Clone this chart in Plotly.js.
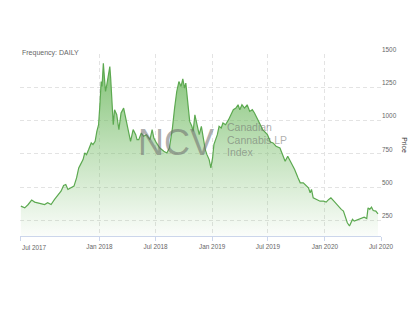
<!DOCTYPE html>
<html>
<head>
<meta charset="utf-8">
<script src="https://cdn.plot.ly/plotly-3.0.1.min.js"></script>
<style>html,body{margin:0;padding:0;background:#fff;}#chart{width:420px;height:315px;}</style>
</head>
<body>
<div id="chart"></div>
<script>
const dates = [
'2017-07-03','2017-07-12','2017-07-20','2017-07-28','2017-08-04','2017-08-15','2017-08-27','2017-09-03','2017-09-11','2017-09-19',
'2017-09-27','2017-10-04','2017-10-10','2017-10-15','2017-10-20','2017-10-27','2017-11-03','2017-11-09','2017-11-14','2017-11-18',
'2017-11-24','2017-11-28','2017-12-02','2017-12-07','2017-12-13','2017-12-17','2017-12-22','2017-12-26','2017-12-30',
'2018-01-02','2018-01-05','2018-01-09','2018-01-12','2018-01-16','2018-01-19','2018-01-24','2018-01-29','2018-02-02','2018-02-06',
'2018-02-09','2018-02-14','2018-02-19','2018-02-26','2018-03-05','2018-03-12','2018-03-20','2018-03-27','2018-04-04','2018-04-11',
'2018-04-19','2018-04-27','2018-05-02','2018-05-08','2018-05-16','2018-05-23','2018-06-01','2018-06-13','2018-06-20','2018-06-26',
'2018-07-04','2018-07-16','2018-07-27','2018-08-07','2018-08-15','2018-08-24','2018-08-31','2018-09-07','2018-09-14','2018-09-21',
'2018-09-27','2018-10-03','2018-10-08','2018-10-15','2018-10-19','2018-10-26','2018-10-31','2018-11-06','2018-11-12','2018-11-20',
'2018-11-27','2018-12-04','2018-12-10','2018-12-14','2018-12-21','2018-12-27',
'2019-01-02','2019-01-07','2019-01-11','2019-01-17','2019-01-23','2019-01-30','2019-02-05','2019-02-13','2019-02-22','2019-03-01',
'2019-03-11','2019-03-19','2019-03-26','2019-04-01','2019-04-08','2019-04-16','2019-04-24','2019-05-02','2019-05-10','2019-05-17',
'2019-05-28','2019-06-13','2019-06-28',
'2019-07-09','2019-07-17','2019-07-26','2019-08-08','2019-08-16','2019-08-26','2019-09-03','2019-09-13','2019-09-25','2019-10-07',
'2019-10-14','2019-10-23','2019-11-01','2019-11-08','2019-11-14','2019-11-19','2019-11-25','2019-12-06','2019-12-17','2019-12-27',
'2020-01-06','2020-01-14','2020-01-21','2020-01-30','2020-02-07','2020-02-14','2020-02-24','2020-03-02','2020-03-09','2020-03-13',
'2020-03-20','2020-03-26','2020-03-31','2020-04-06','2020-04-17','2020-04-28','2020-05-07','2020-05-15','2020-05-20','2020-05-26',
'2020-06-01','2020-06-05','2020-06-15','2020-06-22'
];
const prices = [
357,344,369,402,387,377,369,382,369,407,
444,469,512,519,482,494,507,569,644,669,
707,757,744,782,832,819,844,919,969,
1119,1294,1257,1432,1344,1219,1269,1344,1407,1319,
1094,969,1082,1044,932,1057,1094,1019,919,844,
932,894,857,857,907,882,894,857,932,869,
832,794,769,757,794,944,1094,1219,1294,1257,
1314,1244,1282,1144,994,957,919,1044,982,894,
957,844,782,744,707,644,
719,819,857,894,957,944,982,969,1007,1044,
1082,1094,1119,1082,1119,1094,1119,1069,1082,1057,
1012,932,894,
839,832,807,794,744,694,732,682,632,569,
532,532,507,494,457,482,419,407,394,394,
387,407,419,394,369,357,332,319,269,232,
207,232,257,244,257,269,274,264,344,332,
349,324,319,299
];
const yTicks = [250, 500, 750, 1000, 1250, 1500];
// first trading day of each labelled month (ordinal axis)
const xTickDates = ['2017-07-01','2018-01-01','2018-07-02','2019-01-01','2019-07-01','2020-01-01','2020-07-01'];
const xTickLabels = ['Jul 2017','Jan 2018','Jul 2018','Jan 2019','Jul 2019','Jan 2020','Jul 2020'];
const frequencyText = 'Frequency: DAILY';
const yTitle = 'Price';
const watermarkBig = 'NCV';
const watermarkLines = ['Canadian', 'Cannabis LP', 'Index'];

// Ordinal-like axis: weekends are skipped from 2018 on (the data had no weekend points then)
const weekendBreaks = [];
for (let t = Date.UTC(2018, 0, 6); t <= Date.UTC(2020, 6, 4); t += 7 * 86400000) {
  weekendBreaks.push(new Date(t).toISOString().slice(0, 10));
}

const FONT = 'Liberation Sans, Arial, sans-serif';
const GRID = '#e3e3e3';
const wmColor = 'rgba(105,105,105,0.55)';

const trace = {
  type: 'scatter',
  mode: 'lines',
  x: dates,
  y: prices,
  connectgaps: true,
  fill: 'tozeroy',
  fillgradient: {
    type: 'vertical',
    start: 132,
    stop: 1500,
    colorscale: [[0, 'rgba(110,185,95,0.03)'], [0.5, 'rgba(110,185,95,0.45)'], [1, 'rgba(100,180,85,0.85)']]
  },
  line: {color: '#5ca950', width: 1.2},
  hoverinfo: 'skip'
};

const wmX = (225 - 20) / 361;
const wmY = (py) => (236 - py) / 181.7;

const layout = {
  width: 420, height: 315,
  margin: {l: 20, r: 39, t: 54, b: 79},
  paper_bgcolor: '#fff', plot_bgcolor: '#fff',
  showlegend: false,
  font: {family: FONT, color: '#666'},
  xaxis: {
    type: 'date',
    range: ['2017-07-01', '2020-07-01'],
    rangebreaks: [{values: weekendBreaks, dvalue: 2 * 86400000}],
    tickmode: 'array',
    tickvals: xTickDates,
    ticktext: xTickLabels.map((t, i) => i === 0 ? '' : t),
    ticks: 'outside', ticklen: 4, tickcolor: '#ccd6eb', tickwidth: 1,
    showline: true, linecolor: '#ccd6eb', linewidth: 1,
    showgrid: true, gridcolor: GRID, gridwidth: 1, griddash: '4px,3px',
    zeroline: false,
    tickfont: {size: 6.4, color: '#666', family: FONT}
  },
  yaxis: {
    side: 'right',
    range: [132, 1501],
    tickmode: 'array',
    tickvals: yTicks,
    ticktext: yTicks.map(String),
    ticks: '',
    ticklabelposition: 'outside top',
    showline: false, zeroline: false,
    showgrid: true, gridcolor: GRID, gridwidth: 1, griddash: '4px,3px',
    tickfont: {size: 6.4, color: '#666', family: FONT}
  },
  annotations: [
    {text: frequencyText, xref: 'paper', yref: 'paper', x: 0, y: 1, xanchor: 'left', yanchor: 'bottom', yshift: -5,
     showarrow: false, font: {size: 7, color: '#666', family: FONT}},
    {text: yTitle, xref: 'paper', yref: 'paper', x: 1.066, y: 0.5, xanchor: 'center', yanchor: 'middle', textangle: 90,
     showarrow: false, font: {size: 6.8, color: '#333', family: FONT}},
    {text: watermarkBig, xref: 'paper', yref: 'paper', x: 0.4335, y: 0.515, xanchor: 'center', yanchor: 'middle',
     showarrow: false, font: {size: 36, color: wmColor, family: FONT}},
    {text: watermarkLines[0], xref: 'paper', yref: 'paper', x: wmX, y: wmY(127.4), xanchor: 'left', yanchor: 'middle',
     showarrow: false, font: {size: 10.5, color: wmColor, family: FONT}},
    {text: watermarkLines[1], xref: 'paper', yref: 'paper', x: wmX, y: wmY(139.8), xanchor: 'left', yanchor: 'middle',
     showarrow: false, font: {size: 10.5, color: wmColor, family: FONT}},
    {text: watermarkLines[2], xref: 'paper', yref: 'paper', x: wmX, y: wmY(152.2), xanchor: 'left', yanchor: 'middle',
     showarrow: false, font: {size: 10.5, color: wmColor, family: FONT}},
    {text: xTickLabels[0], xref: 'paper', yref: 'paper', x: 0, y: 0, xanchor: 'left', yanchor: 'top', yshift: -6,
     showarrow: false, font: {size: 6.4, color: '#666', family: FONT}}
  ]
};

Plotly.newPlot('chart', [trace], layout, {staticPlot: true, displayModeBar: false});
</script>
</body>
</html>
